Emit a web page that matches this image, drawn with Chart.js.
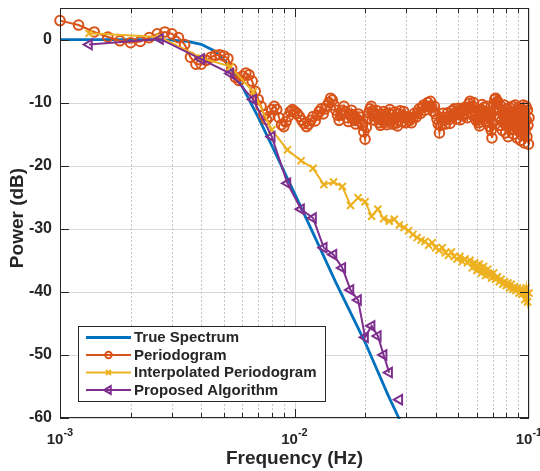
<!DOCTYPE html>
<html>
<head>
<meta charset="utf-8">
<script src="https://cdn.jsdelivr.net/npm/chart.js@4.4.0/dist/chart.umd.min.js"></script>
<style>
  html, body { margin: 0; padding: 0; background: #fff; }
  canvas { display: block; }
</style>
</head>
<body>
<canvas id="psd" width="540" height="471"></canvas>
<script>
// frequencies in mHz, power in dB
const trueFreq = [1, 2, 2.5, 3, 3.5, 4, 4.5, 5, 5.5, 6, 6.5, 7, 8, 9, 10, 12, 15, 20, 25, 28.5, 30];
const trueDb = [0, 0, -0.02, -0.08, -0.28, -0.75, -1.7, -3.2, -5.2, -7.5, -10.0, -12.3, -16.8, -20.8, -24.4, -30.7, -38.5, -48.0, -56.3, -60.8, -62.5];

const periodogramFreq = [
  1.0, 1.2, 1.4, 1.6, 1.8, 2.0, 2.2, 2.4, 2.6, 2.8,
  3.0, 3.2, 3.4, 3.6, 3.8, 4.0, 4.2, 4.4, 4.6, 4.8,
  5.0, 5.2, 5.4, 5.6, 5.8, 6.0, 6.2, 6.4, 6.6, 6.8,
  7.0, 7.2, 7.4, 7.6, 7.8, 8.0, 8.2, 8.4, 8.6, 8.8,
  9.0, 9.2, 9.4, 9.6, 9.8, 10.0,
  10.25, 10.5, 10.75, 11, 11.25, 11.5, 11.75, 12,
  12.25, 12.5, 12.75, 13, 13.25, 13.5, 13.75, 14,
  14.25, 14.5, 14.75, 15, 15.25, 15.5, 15.75, 16,
  16.25, 16.5, 16.75, 17, 17.25, 17.5, 17.75, 18,
  18.25, 18.5, 18.75, 19, 19.25, 19.5, 19.75, 20,
  20.25, 20.5, 20.75, 21, 21.25, 21.5, 21.75, 22,
  22.25, 22.5, 22.75, 23, 23.25, 23.5, 23.75, 24,
  24.25, 24.5, 24.75, 25, 25.25, 25.5, 25.75, 26,
  26.25, 26.5, 26.75, 27, 27.25, 27.5, 27.75, 28,
  28.25, 28.5, 28.75, 29, 29.25, 29.5, 29.75, 30,
  30.5, 31, 31.5, 32, 32.5, 33, 33.5, 34, 34.5, 35,
  35.5, 36, 36.5, 37, 37.5, 38, 38.5, 39, 39.5, 40,
  40.5, 41, 41.5, 42, 42.5, 43, 43.5, 44, 44.5, 45,
  45.5, 46, 46.5, 47, 47.5, 48, 48.5, 49, 49.5, 50,
  50.5, 51, 51.5, 52, 52.5, 53, 53.5, 54, 54.5, 55,
  55.5, 56, 56.5, 57, 57.5, 58, 58.5, 59, 59.5, 60,
  60.5, 61, 61.5, 62, 62.5, 63, 63.5, 64, 64.5, 65,
  65.5, 66, 66.5, 67, 67.5, 68, 68.5, 69, 69.5, 70,
  70.5, 71, 71.5, 72, 72.5, 73, 73.5, 74, 74.5, 75,
  75.5, 76, 76.5, 77, 77.5, 78, 78.5, 79, 79.5, 80,
  80.5, 81, 81.5, 82, 82.5, 83, 83.5, 84, 84.5, 85,
  85.5, 86, 86.5, 87, 87.5, 88, 88.5, 89, 89.5, 90,
  90.5, 91, 91.5, 92, 92.5, 93, 93.5, 94, 94.5, 95,
  95.5, 96, 96.5, 97, 97.5, 98, 98.5, 99, 99.5, 100
];
const periodogramDb = [
  3.0, 2.3, 1.2, 0.4, -0.2, -0.5, -0.3, 0.3, 0.9, 1.2,
  0.9, 0.3, -0.8, -2.8, -3.9, -3.9, -3.3, -2.8, -2.5, -2.4,
  -2.6, -3.0, -4.6, -6.0, -6.5, -5.8, -5.3, -5.6, -6.6, -8.2,
  -9.5, -10.6, -11.9, -12.7, -12.2, -11.1, -10.6, -11.1, -12.4, -13.5,
  -13.8, -13.0, -12.2, -11.4, -11.1, -11.4,
  -11.7, -12.2, -12.8, -13.3, -13.8, -13.4, -12.8, -12.2,
  -12.9, -12.0, -11.4, -11.0, -11.8, -11.0, -10.5, -10.0,
  -9.3, -9.6, -10.4, -11.2, -12.0, -12.8, -12.0, -11.2,
  -10.6, -11.4, -12.4, -13.0, -12.0, -11.2, -11.9, -12.8,
  -13.4, -12.6, -11.8, -12.3, -13.1, -13.6, -14.6, -15.8,
  -13.9, -12.6, -11.6, -11.0, -10.6, -11.3, -12.1, -12.8,
  -11.9, -11.3, -12.3, -13.2, -13.6, -12.7, -11.9, -11.4,
  -12.3, -13.1, -13.5, -12.6, -11.7, -11.1, -11.9, -12.9,
  -13.4, -12.5, -11.5, -12.3, -13.2, -13.7, -12.8, -11.8,
  -11.3, -12.2, -13.0, -12.2, -11.4, -12.4, -13.2, -12.5,
  -12.2, -12.8, -13.2, -12.4, -11.7, -12.3, -11.6, -11.0, -11.7, -10.8,
  -10.4, -11.2, -10.6, -10.0, -10.6, -9.8, -10.7, -11.4, -10.6, -11.8,
  -12.6, -13.4, -14.8, -13.6, -12.4, -11.7, -12.8, -13.4, -12.3, -11.6,
  -12.7, -13.3, -12.1, -11.3, -12.1, -11.0, -11.8, -12.6, -11.4, -10.9,
  -11.9, -12.7, -11.5, -11.0, -12.1, -11.2, -10.7, -11.7, -12.4, -10.9,
  -10.2, -9.8, -10.8, -11.9, -10.6, -10.0, -11.2, -12.2, -12.8, -11.5,
  -12.5, -13.2, -13.7, -12.4, -11.1, -10.3, -11.3, -12.3, -10.7, -11.8,
  -13.0, -11.7, -10.6, -12.0, -13.1, -13.8, -12.2, -14.4, -15.6, -13.2,
  -11.4, -10.2, -9.5, -9.3, -10.0, -11.0, -9.8, -10.8, -12.4, -11.2,
  -13.6, -10.6, -12.8, -14.4, -11.4, -13.2, -10.4, -12.0, -14.8, -12.6,
  -11.0, -13.8, -15.4, -12.2, -10.8, -13.0, -11.6, -14.2, -12.4, -10.6,
  -13.6, -15.0, -11.8, -12.8, -10.4, -14.0, -11.2, -15.6, -13.0, -10.8,
  -12.6, -14.6, -11.4, -16.0, -13.4, -11.0, -15.2, -12.2, -10.4, -13.8,
  -16.4, -11.6, -14.2, -10.6, -12.8, -15.4, -11.2, -13.6, -16.6, -12.4
];

const gridFreq = [
  1.33, 2.67, 4, 5.33, 6.67, 8, 9.33, 10.67, 12, 13.33,
  14.67, 16, 17.33, 18.67, 20, 21.33, 22.67, 24, 25.33, 26.67,
  28, 29.33, 30.67, 32, 33.33, 34.67, 36, 37.33, 38.67, 40,
  41.33, 42.67, 44, 45.33, 46.67, 48, 49.33, 50.67, 52, 53.33,
  54.67, 56, 57.33, 58.67, 60, 61.33, 62.67, 64, 65.33, 66.67,
  68, 69.33, 70.67, 72, 73.33, 74.67, 76, 77.33, 78.67, 80,
  81.33, 82.67, 84, 85.33, 86.67, 88, 89.33, 90.67, 92, 93.33,
  94.67, 96, 97.33, 98.67, 100
];
const interpDb = [
  1.0, 0.4, -2.9, -4.3, -8.3, -14.3, -17.5, -19.2, -20.4, -23.0,
  -22.6, -23.3, -26.3, -25.1, -25.7, -28.0, -26.9, -28.4, -28.8, -28.5,
  -29.4, -29.8, -30.3, -30.9, -31.4, -31.8, -32.0, -32.6, -32.2, -33.0,
  -33.4, -33.0, -33.8, -34.2, -33.7, -34.4, -34.8, -34.4, -35.2, -34.8,
  -35.4, -35.0, -36.2, -35.4, -36.6, -35.6, -37.0, -36.0, -37.4, -36.4,
  -37.2, -37.8, -37.0, -38.0, -37.6, -38.4, -38.0, -38.8, -38.4, -39.0,
  -38.6, -39.4, -38.8, -39.6, -39.2, -39.8, -39.4, -40.2, -39.6, -40.4,
  -39.8, -41.2, -39.4, -41.6, -40.2
];

const proposedFreq = gridFreq.slice(0, 21);
const proposedDb = [
  -0.8, 0.1, -3.1, -5.4, -9.5, -15.4, -22.8, -26.9, -28.3, -33.0,
  -34.1, -36.2, -39.7, -41.3, -47.2, -45.4, -47.0, -50.0, -52.8, null,
  -57.1
];

const yTicks = [-60, -50, -40, -30, -20, -10, 0];
const xTicks = [0.001, 0.01, 0.1];
const xTickExp = ['-3', '-2', '-1'];

const FONT = '"Liberation Sans", Arial, Helvetica, sans-serif';
const INK = '#262626';

function pts(freq, db) {
  return freq.map((f, i) => ({ x: f / 1000, y: db[i] }));
}

// draws a legend marker the same way the points look
function marker(ctx, style, r, cx, cy) {
  ctx.beginPath();
  if (style === 'circle') {
    ctx.arc(cx, cy, r, 0, Math.PI * 2);
  } else if (style === 'crossRot') {
    ctx.moveTo(cx - r * 0.7, cy - r * 0.7); ctx.lineTo(cx + r * 0.7, cy + r * 0.7);
    ctx.moveTo(cx + r * 0.7, cy - r * 0.7); ctx.lineTo(cx - r * 0.7, cy + r * 0.7);
  } else if (style === 'triangle') {
    ctx.moveTo(cx - r, cy);
    ctx.lineTo(cx + r * 0.5, cy - r * 0.866);
    ctx.lineTo(cx + r * 0.5, cy + r * 0.866);
    ctx.closePath();
  }
  ctx.stroke();
}

const axisFrame = {
  id: 'axisFrame',
  beforeDatasetsDraw(chart) {
    const { ctx, chartArea: a, scales: { x, y } } = chart;
    ctx.save();
    ctx.lineWidth = 1;
    ctx.strokeStyle = '#d8d8d8';
    yTicks.forEach(v => {
      const py = Math.round(y.getPixelForValue(v)) + 0.5;
      ctx.beginPath(); ctx.moveTo(a.left, py); ctx.lineTo(a.right, py); ctx.stroke();
    });
    ctx.strokeStyle = '#c4c4c4';
    ctx.setLineDash([2, 2]);
    [0.001, 0.01].forEach(d => {
      for (let m = 2; m <= 9; m++) {
        const px = Math.round(x.getPixelForValue(m * d)) + 0.5;
        ctx.beginPath(); ctx.moveTo(px, a.top); ctx.lineTo(px, a.bottom); ctx.stroke();
      }
    });
    ctx.setLineDash([]);
    ctx.strokeStyle = '#d8d8d8';
    xTicks.forEach(v => {
      const px = Math.round(x.getPixelForValue(v)) + 0.5;
      ctx.beginPath(); ctx.moveTo(px, a.top); ctx.lineTo(px, a.bottom); ctx.stroke();
    });
    ctx.restore();
  },
  afterDatasetsDraw(chart) {
    const { ctx, chartArea: a, scales: { x, y } } = chart;
    ctx.save();
    ctx.strokeStyle = INK;
    ctx.lineWidth = 1;
    ctx.strokeRect(a.left + 0.5, a.top + 0.5, a.right - a.left - 1, a.bottom - a.top - 1);
    ctx.beginPath();
    yTicks.forEach(v => {
      const py = Math.round(y.getPixelForValue(v)) + 0.5;
      ctx.moveTo(a.left, py); ctx.lineTo(a.left + 9, py);
      ctx.moveTo(a.right, py); ctx.lineTo(a.right - 9, py);
    });
    [0.001, 0.01].forEach(d => {
      for (let m = 1; m <= 9; m++) {
        const px = Math.round(x.getPixelForValue(m * d)) + 0.5;
        const len = m === 1 ? 9 : 5;
        ctx.moveTo(px, a.bottom); ctx.lineTo(px, a.bottom - len);
        ctx.moveTo(px, a.top); ctx.lineTo(px, a.top + len);
      }
    });
    ctx.stroke();
    ctx.restore();
  },
  afterDraw(chart) {
    const { ctx, chartArea: a, scales: { x } } = chart;
    ctx.save();
    ctx.fillStyle = INK;
    // x tick labels as 10 with a raised exponent
    xTicks.forEach((v, i) => {
      const px = x.getPixelForValue(v);
      ctx.font = `bold 15px ${FONT}`;
      const wb = ctx.measureText('10').width;
      ctx.font = `bold 11px ${FONT}`;
      const we = ctx.measureText(xTickExp[i]).width;
      const left = px - (wb + we) / 2;
      ctx.textAlign = 'left';
      ctx.textBaseline = 'alphabetic';
      ctx.font = `bold 15px ${FONT}`;
      ctx.fillText('10', left, a.bottom + 26);
      ctx.font = `bold 11px ${FONT}`;
      ctx.fillText(xTickExp[i], left + wb, a.bottom + 18);
    });
    // axis titles
    ctx.font = `bold 19px ${FONT}`;
    ctx.textAlign = 'center';
    ctx.textBaseline = 'middle';
    ctx.fillText('Frequency (Hz)', (a.left + a.right) / 2, a.bottom + 41);
    ctx.save();
    ctx.translate(18, (a.top + a.bottom) / 2 + 5);
    ctx.rotate(-Math.PI / 2);
    ctx.fillText('Power (dB)', 0, 0);
    ctx.restore();

    // legend box in lower left of the axes
    const bx = a.left + 18, by = a.bottom - 92, bw = 248, bh = 76;
    ctx.fillStyle = '#fff';
    ctx.fillRect(bx, by, bw, bh);
    ctx.strokeStyle = INK;
    ctx.lineWidth = 1;
    ctx.strokeRect(bx + 0.5, by + 0.5, bw - 1, bh - 1);
    ctx.font = `bold 15px ${FONT}`;
    ctx.textAlign = 'left';
    ctx.textBaseline = 'middle';
    chart.data.datasets.forEach((ds, i) => {
      const ry = by + 11.5 + i * 17.5;
      ctx.strokeStyle = ds.borderColor;
      ctx.lineWidth = ds.borderWidth;
      ctx.beginPath(); ctx.moveTo(bx + 8, ry); ctx.lineTo(bx + 53, ry); ctx.stroke();
      if (ds.pointRadius > 0) {
        ctx.lineWidth = 2;
        marker(ctx, ds.pointStyle, ds.legendMarker, bx + 30.5, ry);
      }
      ctx.fillStyle = INK;
      ctx.fillText(ds.label, bx + 56, ry + 0.5);
    });
    ctx.restore();
  }
};

new Chart(document.getElementById('psd'), {
  type: 'line',
  data: {
    datasets: [
      {
        label: 'True Spectrum',
        data: pts(trueFreq, trueDb),
        borderColor: '#0072BD',
        borderWidth: 2.8,
        pointRadius: 0,
        order: 4,
        clip: 1
      },
      {
        label: 'Periodogram',
        data: pts(periodogramFreq, periodogramDb),
        borderColor: '#D95319',
        borderWidth: 2,
        pointStyle: 'circle',
        pointRadius: 4.8,
        pointBorderWidth: 2,
        pointBorderColor: '#D95319',
        pointBackgroundColor: 'rgba(0,0,0,0)',
        legendMarker: 3.2,
        order: 3,
        clip: 8
      },
      {
        label: 'Interpolated Periodogram',
        data: pts(gridFreq, interpDb),
        borderColor: '#EDB120',
        borderWidth: 2,
        pointStyle: 'crossRot',
        pointRadius: 5,
        pointBorderWidth: 2,
        pointBorderColor: '#EDB120',
        legendMarker: 3.5,
        order: 2,
        clip: 8
      },
      {
        label: 'Proposed Algorithm',
        data: pts(proposedFreq, proposedDb),
        borderColor: '#7E2F8E',
        borderWidth: 2,
        pointStyle: 'triangle',
        pointRotation: -90,
        pointRadius: 5.5,
        pointBorderWidth: 2,
        pointBorderColor: '#7E2F8E',
        pointBackgroundColor: 'rgba(0,0,0,0)',
        legendMarker: 4.5,
        order: 1,
        clip: 8
      }
    ]
  },
  options: {
    responsive: false,
    animation: false,
    events: [],
    layout: { padding: { left: 0, right: 11, top: 8, bottom: 0 } },
    elements: { line: { tension: 0 } },
    plugins: { legend: { display: false }, tooltip: { enabled: false } },
    scales: {
      x: {
        type: 'logarithmic',
        min: 0.001,
        max: 0.1,
        grid: { display: false },
        border: { display: false },
        ticks: { display: false },
        afterFit(scale) { scale.height = 53; scale.paddingLeft = 0; scale.paddingRight = 0; }
      },
      y: {
        type: 'linear',
        min: -60,
        max: 5,
        grid: { display: false, drawTicks: false },
        border: { display: false },
        ticks: {
          stepSize: 10,
          includeBounds: false,
          padding: 8,
          color: INK,
          font: { family: FONT, size: 16, weight: 'bold' }
        },
        afterFit(scale) { scale.width = 60; scale.paddingTop = 0; scale.paddingBottom = 0; }
      }
    }
  },
  plugins: [axisFrame]
});
</script>
</body>
</html>
